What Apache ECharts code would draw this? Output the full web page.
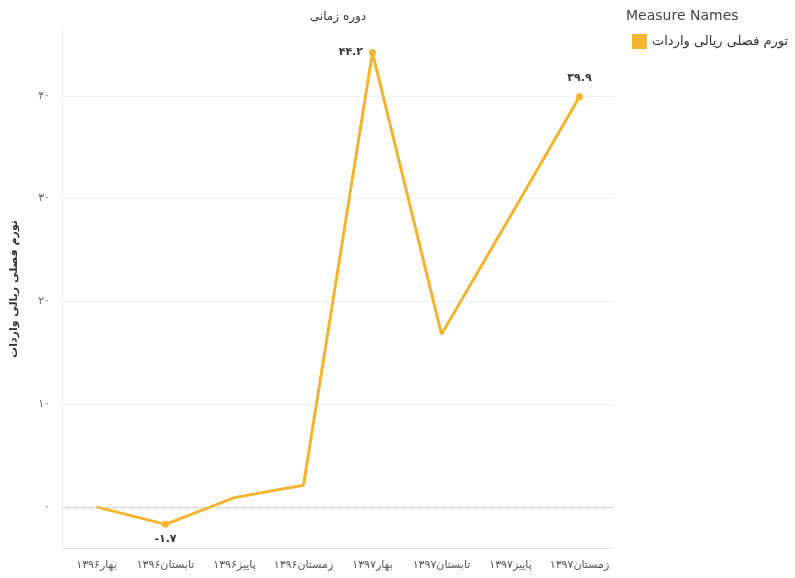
<!DOCTYPE html>
<html><head><meta charset="utf-8">
<script src="https://cdn.jsdelivr.net/npm/echarts@6/dist/echarts.min.js"></script>
<style>html,body{margin:0;padding:0;background:#fff}#c{width:795px;height:578px}</style>
</head><body><div id="c"></div>
<script>
var categories = ["بهار۱۳۹۶","تابستان۱۳۹۶","پاییز۱۳۹۶","زمستان۱۳۹۶","۱۳۹۷بهار","۱۳۹۷تابستان","۱۳۹۷پاییز","زمستان۱۳۹۷"];
var values = [0.0, -1.7, 0.9, 2.1, 44.2, 16.8, 28.3, 39.9];
var labeledIndex = [1, 4, 7];
var labelPositions = ["bottom", "left", "top"];
var seriesName = "تورم فصلی ریالی واردات";
var xTitle = "دوره زمانی";
var yTitle = "تورم فصلی ریالی واردات";
var legendTitle = "Measure Names";

var FONT = "DejaVu Sans, Noto Sans, sans-serif";
var COLOR = "#F2B531";
function fa(s){ return String(s).replace(/[0-9]/g, function(d){ return "۰۱۲۳۴۵۶۷۸۹"[+d]; }); }

var data = values.map(function(v, i){
  var k = labeledIndex.indexOf(i);
  if (k < 0) return { value: v, symbolSize: 0, label: { show: false } };
  return { value: v, symbolSize: 7, label: { show: true, position: labelPositions[k], distance: labelPositions[k] === 'top' ? 10 : 6 } };
});

var chart = echarts.init(document.getElementById('c'), null, { renderer: 'canvas' });
chart.setOption({
  animation: false,
  textStyle: { fontFamily: FONT },
  grid: { left: 62, right: 181, top: 30, bottom: 30, containLabel: false },
  graphic: [
    { type: 'text', x: 338, y: 11, style: { text: xTitle, align: 'center', fill: '#333', font: '12px ' + FONT } },
    { type: 'text', x: 626, y: 9, style: { text: legendTitle, align: 'left', fill: '#444', font: '14px ' + FONT } }
  ],
  legend: {
    data: [seriesName], left: 627, top: 29, icon: 'rect', itemWidth: 15, itemHeight: 15, itemGap: 6,
    textStyle: { fontSize: 13, color: '#333', fontFamily: FONT }
  },
  xAxis: {
    type: 'category', data: categories, boundaryGap: true,
    axisLine: { show: true, onZero: false, lineStyle: { color: '#e3e3e3' } },
    axisTick: { show: false },
    axisLabel: { color: '#555', fontSize: 11, margin: 12, interval: 0, fontFamily: FONT },
    splitLine: { show: false }
  },
  yAxis: {
    type: 'value', min: -4, max: 46.4, splitNumber: 5,
    name: yTitle, nameLocation: 'middle', nameGap: 42,
    nameTextStyle: { color: '#333', fontSize: 11, fontWeight: 'bold', fontFamily: FONT },
    axisLine: { show: true, lineStyle: { color: '#ececec' } },
    axisTick: { show: false },
    axisLabel: { color: '#666', fontSize: 11, margin: 12, fontFamily: FONT,
      formatter: function(v){ return (Math.abs(v % 10) < 1e-9) ? fa(v) : ''; } },
    splitLine: { show: true, showMinLine: false, showMaxLine: false,
      lineStyle: { color: ['rgba(0,0,0,0)', '#f0f0f0', '#f0f0f0', '#f0f0f0', '#f0f0f0'], width: 1 } }
  },
  series: [{
    name: seriesName, type: 'line', data: data, color: COLOR,
    symbol: 'circle', showSymbol: true,
    lineStyle: { color: COLOR, width: 3 },
    itemStyle: { color: COLOR },
    label: { color: '#333', fontSize: 11, fontWeight: 'bold', fontFamily: FONT, distance: 6,
      formatter: function(p){ return fa(p.value); } },
    markLine: { silent: true, symbol: 'none', label: { show: false },
      lineStyle: { color: '#bbb', type: 'dotted', width: 1 },
      data: [{ yAxis: 0 }] },
    z: 3
  }]
});
</script></body></html>
